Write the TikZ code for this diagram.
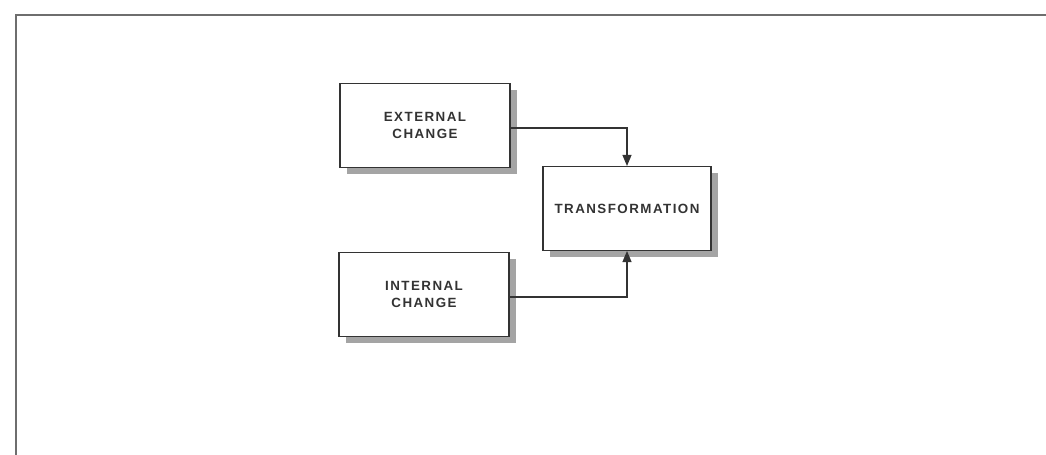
\documentclass[tikz,border=0pt]{standalone}
\usepackage{fontspec}
\setmainfont{Liberation Sans}[LetterSpace=11]
\usepackage{tikz}
\usetikzlibrary{arrows.meta, shadows}
\definecolor{boxline}{HTML}{333333}
\definecolor{shadowgray}{HTML}{A4A4A4}
\definecolor{framegray}{HTML}{6E6E6E}

\begin{document}
\begin{tikzpicture}[
    changebox/.style={rectangle, draw=boxline, line width=0.6pt, fill=white,
                     minimum width=3.4cm, minimum height=1.68cm,
                     font=\fontsize{7.6}{9.6}\selectfont\bfseries, text=boxline, align=center,
                     drop shadow={shadow xshift=0.13cm, shadow yshift=-0.13cm,
                                  fill=shadowgray, opacity=1}},
    arrow/.style={-{Triangle[length=0.22cm, width=0.18cm]}, line width=0.6pt, draw=boxline}
]
\useasboundingbox (0,0) rectangle (20.92,9.1);

% Page frame
\draw[framegray, line width=1.2pt] (0.32,0) -- (0.32,8.8) -- (20.92,8.8);

% Boxes
\node[changebox] at (8.5,6.59) (ext) {EXTERNAL\\CHANGE};
\node[changebox, minimum width=3.36cm] at (12.54,4.93) (trans) {TRANSFORMATION};
\node[changebox] at (8.48,3.21) (int) {INTERNAL\\CHANGE};

% Arrows into transformation
\draw[arrow] ([yshift=-0.05cm]ext.east) -| (trans.north);
\draw[arrow] ([yshift=-0.05cm]int.east) -| (trans.south);

\end{tikzpicture}
\end{document}
